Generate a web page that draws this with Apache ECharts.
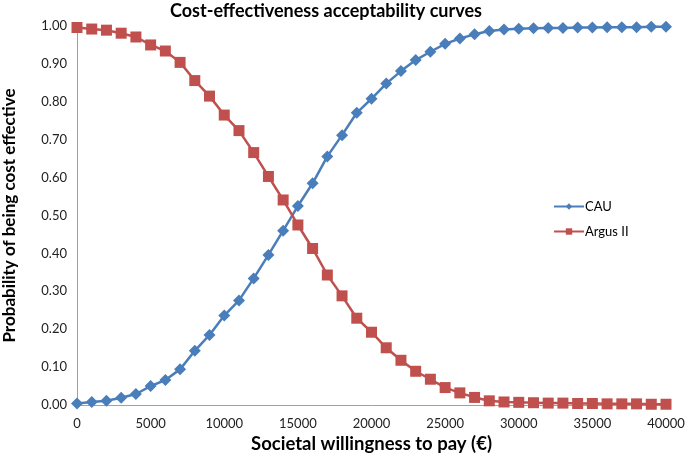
<!DOCTYPE html>
<html><head><meta charset="utf-8">
<script src="https://cdn.jsdelivr.net/npm/echarts@6/dist/echarts.min.js"></script>
<style>html,body{margin:0;padding:0;background:#fff}#c{width:685px;height:474px}</style>
</head><body><div id="c"></div>
<script>
const wtp = [0,1000,2000,3000,4000,5000,6000,7000,8000,9000,10000,11000,12000,13000,14000,15000,16000,17000,18000,19000,20000,21000,22000,23000,24000,25000,26000,27000,28000,29000,30000,31000,32000,33000,34000,35000,36000,37000,38000,39000,40000];
const cau = [0.004,0.008,0.011,0.019,0.029,0.05,0.066,0.094,0.143,0.185,0.236,0.276,0.334,0.396,0.46,0.525,0.585,0.656,0.712,0.771,0.808,0.848,0.881,0.91,0.932,0.953,0.967,0.978,0.987,0.991,0.993,0.994,0.995,0.995,0.996,0.996,0.997,0.997,0.997,0.998,0.998];
const argus = [0.996,0.992,0.989,0.981,0.971,0.95,0.934,0.904,0.856,0.815,0.765,0.724,0.666,0.603,0.541,0.475,0.413,0.343,0.288,0.229,0.192,0.151,0.118,0.089,0.068,0.046,0.032,0.02,0.011,0.008,0.007,0.006,0.005,0.005,0.004,0.004,0.003,0.003,0.003,0.002,0.002];
const xTicks = [0,5000,10000,15000,20000,25000,30000,35000,40000];
const yTicks = [0,0.1,0.2,0.3,0.4,0.5,0.6,0.7,0.8,0.9,1.0];

const FONT = 'Lato, "Open Sans", sans-serif';
const chart = echarts.init(document.getElementById('c'));
chart.setOption({
  animation:false,
  title:{text:'Cost-effectiveness acceptability curves',left:165,top:-3,
    textStyle:{fontFamily:FONT,fontSize:18,fontWeight:'bold',color:'#000'}},
  legend:{orient:'vertical',left:548,top:195,itemWidth:30,itemHeight:8,itemGap:12,
    textStyle:{fontFamily:FONT,fontSize:13,color:'#000',padding:[0,0,0,-4]},
    data:['CAU','Argus II']},
  grid:{left:77,right:19,top:26,bottom:69,containLabel:false,outerBoundsMode:'none'},
  xAxis:{type:'value',min:0,max:40000,interval:5000,
    name:'Societal willingness to pay (€)',nameLocation:'middle',nameGap:29,
    nameTextStyle:{fontFamily:FONT,fontSize:18.5,fontWeight:'bold',color:'#000'},
    axisLine:{lineStyle:{color:'#a0a0a0',width:1}},axisTick:{show:false},
    splitLine:{show:false},
    axisLabel:{fontFamily:FONT,fontSize:13,color:'#222',margin:12,
      formatter:v=>xTicks.includes(v)?String(v):''}},
  yAxis:{type:'value',min:0,max:1,interval:0.1,
    name:'Probability of being cost effective',nameLocation:'middle',nameGap:59,
    nameTextStyle:{fontFamily:FONT,fontSize:17,fontWeight:'bold',color:'#000'},
    axisLine:{show:true,lineStyle:{color:'#a0a0a0',width:1}},axisTick:{show:false},
    splitLine:{show:false},
    axisLabel:{fontFamily:FONT,fontSize:13,color:'#222',margin:10,
      formatter:v=>{const t=yTicks.find(x=>Math.abs(x-v)<1e-9);return t===undefined?'':t.toFixed(2);}}},
  series:[
    {name:'CAU',type:'line',data:wtp.map((x,i)=>[x,cau[i]]),symbol:'diamond',symbolSize:12,
      itemStyle:{color:'#4a7ebb'},lineStyle:{color:'#4a7ebb',width:2.5}},
    {name:'Argus II',type:'line',data:wtp.map((x,i)=>[x,argus[i]]),symbol:'rect',symbolSize:11,
      itemStyle:{color:'#c0504d'},lineStyle:{color:'#c0504d',width:2.5}}
  ]
});
</script></body></html>
